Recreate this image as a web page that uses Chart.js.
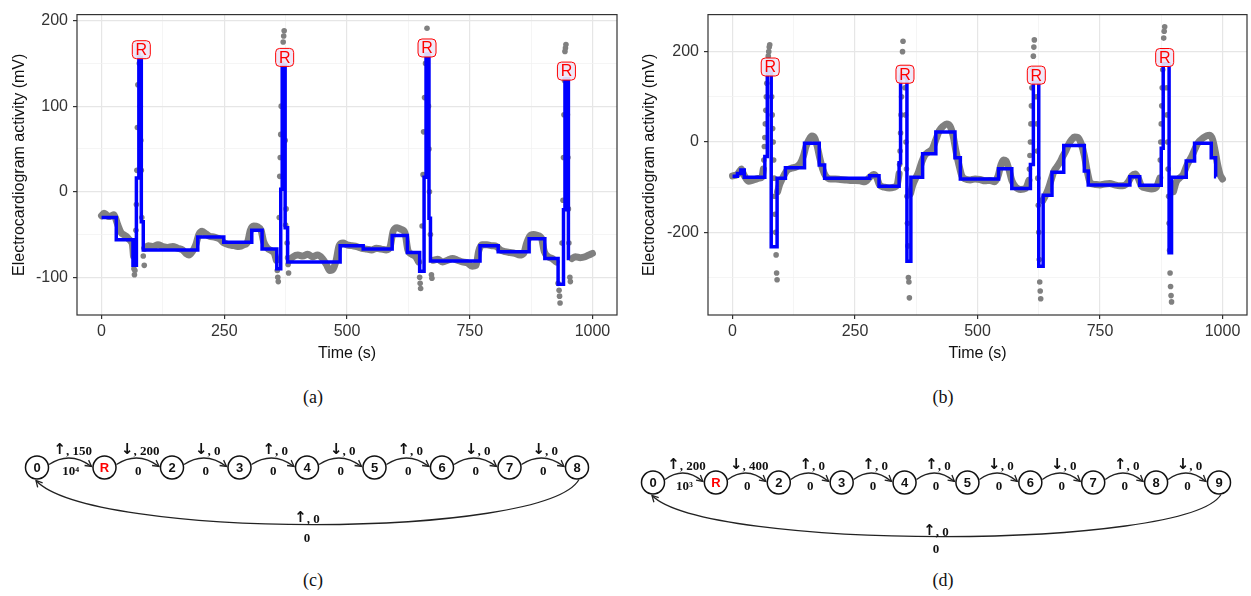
<!DOCTYPE html>
<html>
<head>
<meta charset="utf-8">
<script src="https://cdn.jsdelivr.net/npm/chart.js@4"></script>
<style>
    body { margin: 0; background: #fff; width: 1251px; height: 596px; position: relative; overflow: hidden; }
    canvas { position: absolute; }
    .cap { position: absolute; width: 60px; margin-left: -30px; text-align: center; font-family: "Liberation Serif", serif; font-size: 18px; line-height: 20px; color: #111; }
</style>
</head>
<body>
<canvas id="ecg-a" width="625" height="372" style="left:0;top:0"></canvas>
<canvas id="ecg-b" width="623" height="372" style="left:628px;top:0"></canvas>
<canvas id="diag-c" width="630" height="140" style="left:0;top:420px"></canvas>
<canvas id="diag-d" width="623" height="140" style="left:628px;top:420px"></canvas>
<div class="cap" style="left:313px;top:387px">(a)</div>
<div class="cap" style="left:943px;top:387px">(b)</div>
<div class="cap" style="left:313px;top:570px">(c)</div>
<div class="cap" style="left:943px;top:570px">(d)</div>
<script>
// axis ticks
const timeTicks = [0, 250, 500, 750, 1000];
const timeMinor = [125, 375, 625, 875];
const yTicksA = [-100, 0, 100, 200];
const yMinorA = [-50, 50, 150];
const yTicksB = [-200, 0, 200];
const yMinorB = [-300, -100, 100];

// (a) grey samples, [time, mV]; null = break before a spike
const grayA = [
    [0,-28],[5,-25],[10,-27],[15,-29],[20,-28],[25,-27],[28,-30],[32,-37],[36,-43],[40,-48],[45,-50],[50,-52],[55,-55],[60,-58],[63,-62],[65,-75],
    [66,null],
    [88,-66],[95,-63],[105,-64],[115,-62],[125,-64],[135,-65],[145,-64],[155,-66],[165,-68],[172,-72],[178,-74],[185,-70],[192,-62],[198,-50],[205,-46],[212,-49],[220,-52],[230,-53],[240,-55],[250,-60],[260,-62],[270,-63],[280,-64],[290,-62],[298,-58],[303,-45],[310,-40],[318,-41],[325,-45],[330,-58],[338,-66],[346,-69],[352,-72],[356,-80],
    [357,null],
    [383,-80],[390,-76],[400,-74],[410,-75],[420,-73],[430,-76],[440,-74],[450,-78],[458,-85],[465,-92],[472,-90],[478,-80],[484,-63],[492,-60],[500,-62],[510,-63],[520,-64],[530,-66],[540,-67],[550,-68],[560,-66],[570,-67],[580,-68],[588,-64],[594,-46],[602,-42],[610,-44],[618,-48],[624,-68],[632,-73],[640,-76],[646,-82],
    [647,null],
    [676,-80],[685,-79],[695,-82],[705,-80],[715,-78],[725,-80],[735,-82],[745,-83],[755,-87],[763,-86],[768,-70],[775,-62],[785,-62],[795,-63],[805,-64],[812,-68],[822,-70],[832,-71],[842,-72],[852,-74],[860,-72],[866,-60],[872,-52],[880,-50],[888,-51],[896,-54],[902,-70],[910,-76],[918,-78],[926,-82],
    [928,null],
    [958,-78],[965,-76],[975,-77],[985,-76],[992,-74],[1000,-72]
];
const dotsA = [
    [66,-90],[67,-97],[68,-92],[70,-45],[71,-15],[72,25],[73,75],[74,125],[75,160],[77,150],[79,100],[80,60],[81,25],[82,-30],[85,-75],[87,-86],
    [358,-92],[359,-100],[360,-105],[362,-30],[363,18],[364,40],[365,67],[366,100],[367,150],[370,175],[371,182],[372,188],[374,60],[375,-39],[376,-20],[378,-60],[379,-77],[380,-85],[381,-95],
    [648,-100],[649,-107],[650,-113],[653,-40],[655,20],[656,70],[658,110],[660,150],[663,191],[666,100],[667,50],[668,0],[670,-50],[672,-97],[673,-101],
    [930,-107],[932,-115],[933,-122],[934,-130],[938,-60],[940,-10],[941,40],[942,90],[943,130],[944,164],[945,168],[946,172],[949,90],[950,40],[951,-20],[952,-60],[954,-100],[955,-105]
];
// (a) fitted steps: [time of change, new level]
const stepA = [
    [0,-30],[30,-56],[64,-86],[71,16],[76,157],[81,-35],[85,-68],[196,-53],[249,-59],[306,-45],[327,-67],[357,-90],
    [365,3],[368,148],[374,-42],[379,-82],[486,-63],[533,-67],[592,-51],[623,-71],[648,-93],[657,17],[661,161],[667,-31],
    [670,-81],[771,-63],[808,-70],[871,-55],[903,-78],[930,-108],[941,-21],[944,132],[951,-78],[954,-78]
];
const peaksA = [[81,166],[373,157],[663,168],[947,141]];

// (b)
const grayB = [
    [0,-75],[5,-74],[10,-72],[15,-64],[18,-60],[22,-70],[27,-80],[33,-87],[40,-85],[48,-82],[55,-80],[60,-78],[63,-60],
    [64,null],
    [92,-110],[96,-95],[100,-85],[106,-72],[112,-62],[120,-58],[130,-55],[138,-48],[145,-30],[150,-10],[156,5],[162,13],[168,8],[173,-10],[178,-35],[184,-60],[190,-75],[200,-82],[210,-82],[220,-83],[230,-84],[240,-85],[250,-85],[260,-86],[270,-88],[280,-78],[288,-72],[294,-78],[300,-95],[310,-100],[320,-102],[330,-100],[336,-95],[340,-70],
    [341,null],
    [363,-115],[368,-95],[374,-80],[380,-65],[386,-45],[392,-30],[400,-22],[408,-15],[415,5],[422,25],[430,35],[437,40],[444,35],[450,15],[456,-20],[462,-50],[468,-75],[475,-82],[485,-84],[495,-82],[505,-83],[515,-86],[525,-85],[535,-88],[542,-75],[548,-50],[553,-40],[558,-42],[564,-60],[570,-85],[578,-100],[588,-105],[598,-103],[605,-85],
    [606,null],
    [633,-130],[638,-120],[644,-105],[650,-85],[656,-65],[662,-55],[668,-45],[674,-32],[680,-20],[686,-5],[692,5],[698,11],[705,10],[712,-5],[718,-30],[724,-65],[730,-90],[740,-94],[750,-95],[760,-93],[770,-92],[780,-95],[790,-97],[800,-96],[808,-88],[815,-75],[822,-71],[828,-80],[835,-98],[845,-102],[855,-104],[865,-100],[872,-80],
    [873,null],
    [900,-110],[905,-90],[912,-80],[920,-72],[926,-55],[932,-42],[938,-30],[944,-15],[950,-2],[956,5],[962,10],[968,14],[974,15],[980,5],[985,-20],[990,-50],[995,-72],[1000,-82]
];
const dotsB = [
    [64,-40],[65,-10],[66,10],[67,40],[68,70],[69,100],[70,130],[72,160],[73,190],[74,200],[75,210],[76,215],[80,100],[81,60],[82,30],[83,0],[84,-40],[85,-80],[86,-120],[87,-160],[88,-200],[89,-250],[90,-290],[91,-305],
    [341,-50],[342,-20],[343,20],[344,60],[345,100],[346,150],[347,200],[348,223],[352,120],[353,60],[354,0],[355,-60],[356,-120],[357,-180],[358,-230],[359,-300],[360,-310],[361,-345],
    [606,-60],[607,-30],[608,0],[609,40],[610,80],[611,120],[613,160],[614,190],[615,210],[616,226],[620,100],[621,40],[622,-20],[623,-80],[624,-140],[625,-200],[626,-260],[627,-310],[628,-330],[629,-347],
    [873,-40],[874,0],[875,40],[876,80],[877,120],[878,160],[879,200],[880,230],[881,245],[882,255],[886,120],[887,60],[888,0],[889,-60],[890,-120],[891,-180],[892,-240],[893,-290],[894,-320],[895,-340],[896,-354]
];
const stepB = [
    [0,-76],[10,-70],[17,-62],[24,-78],[66,-32],[71,155],[79,-232],[91,-80],[108,-57],[147,-3],[177,-51],[188,-80],
    [280,-75],[299,-98],[340,-46],[343,144],[356,-264],[364,-78],[388,-26],[415,22],[454,-35],[465,-82],[543,-59],
    [570,-103],[608,-50],[614,133],[625,-275],[634,-118],[652,-67],[676,-8],[718,-64],[726,-95],[811,-77],[831,-96],
    [875,-14],[879,173],[891,-245],[896,-78],[926,-42],[943,-3],[977,-35],[986,-77],[987,-77]
];
const peaksB = [[77,166],[352,150],[620,148],[882,187]];

// state machines: edge label = [direction, threshold]
const statesC = ['0', 'R', '2', '3', '4', '5', '6', '7', '8'];
const topC = [['\u2191', '150'], ['\u2193', '200'], ['\u2193', '0'], ['\u2191', '0'], ['\u2193', '0'], ['\u2191', '0'], ['\u2193', '0'], ['\u2193', '0']];
const bottomC = ['10\u2074', '0', '0', '0', '0', '0', '0', '0'];
const returnC = [['\u2191', '0'], '0'];
const statesD = ['0', 'R', '2', '3', '4', '5', '6', '7', '8', '9'];
const topD = [['\u2191', '200'], ['\u2193', '400'], ['\u2191', '0'], ['\u2191', '0'], ['\u2191', '0'], ['\u2193', '0'], ['\u2193', '0'], ['\u2191', '0'], ['\u2193', '0']];
const bottomD = ['10\u00b3', '0', '0', '0', '0', '0', '0', '0', '0'];
const returnD = [['\u2191', '0'], '0'];

const SANS = '"Liberation Sans", Arial, sans-serif';
const SERIF = 'bold 13px "Liberation Serif", "DejaVu Serif", serif';
const ARROW = 'bold 15px "DejaVu Sans", sans-serif';
const toXY = rows => rows.map(r => ({ x: r[0], y: r[1] }));

// panel frame + the R labels
const ecgDecor = {
    id: 'ecgDecor',
    afterDatasetsDraw(chart, args, opts) {
        const { ctx, scales: { x, y } } = chart;
        ctx.save();
        ctx.font = '16px ' + SANS;
        ctx.textAlign = 'center';
        ctx.textBaseline = 'middle';
        opts.peaks.forEach(p => {
            const px = x.getPixelForValue(p[0]);
            const py = y.getPixelForValue(p[1]);
            ctx.beginPath();
            ctx.roundRect(px - 9, py - 9, 18, 18, 4);
            ctx.fillStyle = 'rgba(238,230,246,0.92)';
            ctx.fill();
            ctx.strokeStyle = '#ff0000';
            ctx.lineWidth = 1;
            ctx.stroke();
            ctx.fillStyle = '#ff0000';
            ctx.fillText('R', px, py + 1);
        });
        ctx.restore();
    },
    afterDraw(chart) {
        const { ctx, chartArea: a } = chart;
        ctx.save();
        ctx.strokeStyle = '#333';
        ctx.lineWidth = 1.2;
        ctx.strokeRect(a.left, a.top, a.right - a.left, a.bottom - a.top);
        ctx.restore();
    }
};

function gridStyle(major) {
    return {
        color: c => (c.tick && major.includes(c.tick.value)) ? '#e6e6e6' : '#f1f1f1',
        lineWidth: c => (c.tick && major.includes(c.tick.value)) ? 1.2 : 0.7,
        tickColor: c => (c.tick && major.includes(c.tick.value)) ? '#333' : 'rgba(0,0,0,0)',
        tickLength: 4
    };
}

function ecgChart(id, cfg) {
    return new Chart(document.getElementById(id), {
        type: 'line',
        data: {
            datasets: [
                {
                    // signal samples, underneath
                    data: toXY(cfg.gray), order: 2, borderColor: '#808080', borderWidth: 7, pointRadius: 0,
                    borderCapStyle: 'round', borderJoinStyle: 'round', spanGaps: false, cubicInterpolationMode: 'monotone'
                },
                {
                    data: toXY(cfg.dots), order: 1, showLine: false, pointRadius: 2.8,
                    pointBackgroundColor: '#808080', pointBorderWidth: 0
                },
                {
                    // step fit on top
                    data: toXY(cfg.step), order: 0, borderColor: '#0000ff', borderWidth: 3.5, pointRadius: 0, stepped: true
                }
            ]
        },
        options: {
            responsive: false,
            animation: false,
            events: [],
            layout: { padding: { left: 0, top: 6, right: cfg.padRight, bottom: 0 } },
            scales: {
                x: {
                    type: 'linear', min: -50, max: 1050,
                    afterBuildTicks: s => { s.ticks = timeMinor.concat(timeTicks).sort((a, b) => a - b).map(v => ({ value: v })); },
                    afterFit: s => { s.height = 57; },
                    ticks: {
                        autoSkip: false, maxRotation: 0, padding: 3, color: '#333', font: { family: SANS, size: 16 },
                        callback: v => timeTicks.includes(v) ? String(v) : ''
                    },
                    grid: gridStyle(timeTicks),
                    border: { display: false },
                    title: { display: true, text: 'Time (s)', color: '#111', font: { family: SANS, size: 16 }, padding: { top: 0, bottom: 9 } }
                },
                y: {
                    type: 'linear', min: cfg.yMin, max: cfg.yMax,
                    afterBuildTicks: s => { s.ticks = cfg.yMinor.concat(cfg.yTicks).sort((a, b) => a - b).map(v => ({ value: v })); },
                    afterFit: s => { s.width = cfg.yWidth; },
                    ticks: {
                        autoSkip: false, padding: 5, color: '#333', font: { family: SANS, size: 16 },
                        callback: v => cfg.yTicks.includes(v) ? String(v) : ''
                    },
                    grid: gridStyle(cfg.yTicks),
                    border: { display: false },
                    title: {
                        display: true, text: 'Electrocardiogram activity (mV)', color: '#111',
                        font: { family: SANS, size: 16 }, padding: { top: cfg.titlePad, bottom: 0 }
                    }
                }
            },
            plugins: {
                legend: { display: false },
                tooltip: { enabled: false },
                ecgDecor: { peaks: cfg.peaks }
            }
        },
        plugins: [ecgDecor]
    });
}

ecgChart('ecg-a', { gray: grayA, dots: dotsA, step: stepA, peaks: peaksA, yTicks: yTicksA, yMinor: yMinorA, yMin: -144, yMax: 207, yWidth: 77, padRight: 8, titlePad: 10 });
ecgChart('ecg-b', { gray: grayB, dots: dotsB, step: stepB, peaks: peaksB, yTicks: yTicksB, yMinor: yMinorB, yMin: -383, yMax: 282, yWidth: 80, padRight: 4, titlePad: 12 });

// state diagrams
function arrowHead(ctx, tx, ty, angle) {
    const len = 7, spread = 0.5;
    ctx.beginPath();
    ctx.moveTo(tx - len * Math.cos(angle - spread), ty - len * Math.sin(angle - spread));
    ctx.lineTo(tx, ty);
    ctx.lineTo(tx - len * Math.cos(angle + spread), ty - len * Math.sin(angle + spread));
    ctx.stroke();
}

// "↑, 150" with a heavier arrow glyph, centred on cx
function edgeLabel(ctx, lab, cx, cy) {
    const rest = ', ' + lab[1];
    ctx.font = ARROW;
    const wa = ctx.measureText(lab[0]).width;
    ctx.font = SERIF;
    const wr = ctx.measureText(rest).width;
    const left = cx - (wa + wr) / 2;
    ctx.textAlign = 'left';
    ctx.font = ARROW;
    ctx.fillText(lab[0], left, cy - 1);
    ctx.font = SERIF;
    ctx.fillText(rest, left + wa, cy);
    ctx.textAlign = 'center';
}

const stateDiagram = {
    id: 'stateDiagram',
    beforeDatasetsDraw(chart, args, o) {
        const { ctx, scales: { x, y } } = chart;
        const y0 = y.getPixelForValue(0);
        const r = o.radius;
        const n = o.states.length;
        ctx.save();
        ctx.strokeStyle = '#222';
        ctx.lineWidth = 1.3;
        for (let i = 0; i < n - 1; i++) {
            const x1 = x.getPixelForValue(i) + r;
            const x2 = x.getPixelForValue(i + 1) - r - 1;
            const cx = (x1 + x2) / 2, cy = y0 - 17;
            ctx.beginPath();
            ctx.moveTo(x1, y0 - 3);
            ctx.quadraticCurveTo(cx, cy, x2, y0 - 1);
            ctx.stroke();
            arrowHead(ctx, x2, y0 - 1, Math.atan2(y0 - 1 - cy, x2 - cx));
        }
        // loop back to the first state
        const xl = x.getPixelForValue(n - 1), xf = x.getPixelForValue(0);
        const p0 = [xl + 2, y0 + r], c1 = [xl - 32, y0 + o.depth], c2 = [xf + 53, y0 + o.depth], p3 = [xf - 1, y0 + r + 1];
        ctx.beginPath();
        ctx.moveTo(p0[0], p0[1]);
        ctx.bezierCurveTo(c1[0], c1[1], c2[0], c2[1], p3[0], p3[1]);
        ctx.stroke();
        arrowHead(ctx, p3[0], p3[1], Math.atan2(p3[1] - c2[1], p3[0] - c2[0]));
        ctx.restore();
    },
    afterDatasetsDraw(chart, args, o) {
        const { ctx, scales: { x, y } } = chart;
        const y0 = y.getPixelForValue(0);
        const n = o.states.length;
        ctx.save();
        ctx.textAlign = 'center';
        ctx.textBaseline = 'middle';
        ctx.font = 'bold 13px ' + SANS;
        o.states.forEach((s, i) => {
            ctx.fillStyle = s === 'R' ? '#ff0000' : '#111';
            ctx.fillText(s, x.getPixelForValue(i), y0 + 1);
        });
        ctx.fillStyle = '#111';
        for (let i = 0; i < n - 1; i++) {
            const mx = (x.getPixelForValue(i) + x.getPixelForValue(i + 1)) / 2;
            edgeLabel(ctx, o.top[i], mx + 2, y0 - 16);
            ctx.font = SERIF;
            ctx.fillText(o.bottom[i], mx, y0 + 4);
        }
        const mid = (x.getPixelForValue(0) + x.getPixelForValue(n - 1)) / 2;
        edgeLabel(ctx, o.ret[0], mid, y0 + o.retTop);
        ctx.font = SERIF;
        ctx.fillText(o.ret[1], mid, y0 + o.retBottom);
        ctx.restore();
    }
};

function diagram(id, cfg) {
    return new Chart(document.getElementById(id), {
        type: 'scatter',
        data: {
            datasets: [{
                data: cfg.states.map((s, i) => ({ x: i, y: 0 })),
                pointRadius: 11.5, pointBackgroundColor: '#fff', pointBorderColor: '#111', pointBorderWidth: 1.5, clip: false
            }]
        },
        options: {
            responsive: false,
            animation: false,
            events: [],
            layout: { padding: cfg.padding },
            scales: {
                x: { display: false, min: 0, max: cfg.states.length - 1 },
                y: { display: false, min: -1, max: 1 }
            },
            plugins: {
                legend: { display: false },
                tooltip: { enabled: false },
                stateDiagram: {
                    states: cfg.states, top: cfg.top, bottom: cfg.bottom, ret: cfg.ret,
                    radius: 12, depth: cfg.depth, retTop: cfg.retTop, retBottom: cfg.retBottom
                }
            }
        },
        plugins: [stateDiagram]
    });
}

diagram('diag-c', { states: statesC, top: topC, bottom: bottomC, ret: returnC, depth: 72, retTop: 52, retBottom: 71,
    padding: { left: 37, right: 53, top: 0, bottom: 58 } });
diagram('diag-d', { states: statesD, top: topD, bottom: bottomD, ret: returnD, depth: 68, retTop: 50, retBottom: 67,
    padding: { left: 25, right: 32, top: 0, bottom: 28 } });
</script>
</body>
</html>
